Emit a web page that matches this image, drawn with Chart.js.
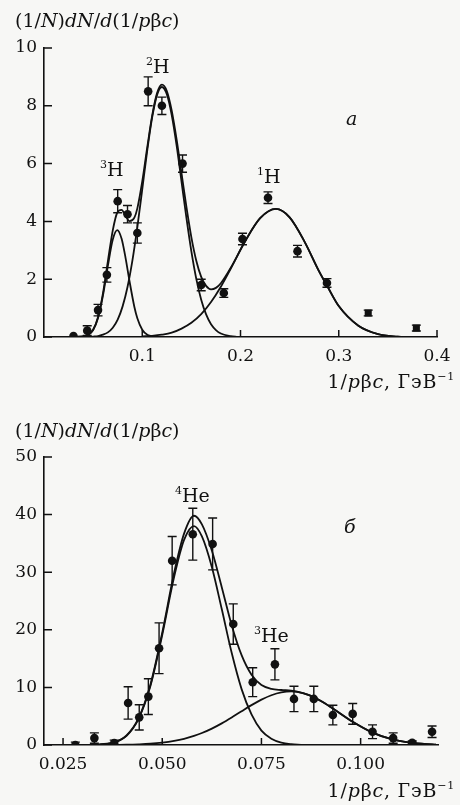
<!DOCTYPE html>
<html>
<head>
<meta charset="utf-8">
<script src="https://cdn.jsdelivr.net/npm/chart.js@4.4.1/dist/chart.umd.min.js"></script>
<style>
  html, body { margin: 0; padding: 0; background: #f7f7f5; }
  #wrap { position: relative; width: 460px; height: 805px; overflow: hidden;
          font-family: "DejaVu Serif", serif; color: #111; }
  canvas { position: absolute; left: 0; }
  #c1 { top: 0; }
  #c2 { top: 400px; }
  .t { position: absolute; white-space: nowrap; font-size: 19px; line-height: 1; z-index: 2; }
  .t .s { font-size: 11px; position: relative; top: -8px; }
  .r { text-align: right; }
  .ax { font-size: 19px; letter-spacing: 0.8px; }
</style>
</head>
<body>
<div id="wrap">
  <canvas id="c1" width="460" height="400"></canvas>
  <canvas id="c2" width="460" height="405"></canvas>

  <!-- panel a -->
  <div class="t" style="left:15px; top:11px;">(1/<i>N</i>)<i>dN</i>/<i>d</i>(1/<i>p</i>β<i>c</i>)</div>
  <div class="t" style="left:100px; top:160px;"><span class="s">3</span>H</div>
  <div class="t" style="left:146px; top:57px;"><span class="s">2</span>H</div>
  <div class="t" style="left:257px; top:167px;"><span class="s">1</span>H</div>
  <div class="t" style="left:346px; top:109px;"><i>a</i></div>
  <div class="t r ax" style="right:5px; top:372px;">1/<i>p</i>β<i>c</i>, ГэВ<span class="s">−1</span></div>

  <!-- panel б -->
  <div class="t" style="left:15px; top:421px;">(1/<i>N</i>)<i>dN</i>/<i>d</i>(1/<i>p</i>β<i>c</i>)</div>
  <div class="t" style="left:175px; top:486px;"><span class="s">4</span>He</div>
  <div class="t" style="left:344px; top:517px;"><i>б</i></div>
  <div class="t" style="left:254px; top:626px;"><span class="s">3</span>He</div>
  <div class="t r ax" style="right:5px; top:781px;">1/<i>p</i>β<i>c</i>, ГэВ<span class="s">−1</span></div>
</div>

<script>
// ---------- панель a: изотопы водорода ----------
const topXTicks  = [0.1, 0.2, 0.3, 0.4];
const topXLabels = ['0.1', '0.2', '0.3', '0.4'];
const topYTicks  = [0, 2, 4, 6, 8, 10];

// экспериментальные точки
const hX   = [0.030, 0.044, 0.055, 0.064, 0.075, 0.085, 0.095, 0.106, 0.120, 0.141, 0.160, 0.183, 0.202, 0.228, 0.258, 0.288, 0.330, 0.379];
const hY   = [0.03, 0.22, 0.93, 2.15, 4.7, 4.25, 3.6, 8.5, 8.0, 6.0, 1.8, 1.52, 3.39, 4.82, 2.97, 1.87, 0.83, 0.31];
const hErr = [0, 0.17, 0.2, 0.25, 0.4, 0.3, 0.35, 0.5, 0.3, 0.3, 0.2, 0.15, 0.2, 0.2, 0.2, 0.15, 0.1, 0.1];

// кривые: 3H, 2H, 1H и сумма
const h3X = [0.040, 0.045, 0.050, 0.055, 0.060, 0.065, 0.070, 0.0745, 0.079, 0.083, 0.087, 0.092, 0.095, 0.100, 0.105, 0.110];
const h3Y = [0.02, 0.07, 0.24, 0.66, 1.43, 2.46, 3.37, 3.70, 3.40, 2.74, 1.94, 1.04, 0.65, 0.25, 0.08, 0.02];

const h2X = [0.045, 0.050, 0.055, 0.060, 0.065, 0.070, 0.075, 0.080, 0.085, 0.090, 0.095, 0.100, 0.105, 0.110, 0.115, 0.120, 0.125, 0.130, 0.135, 0.140, 0.145, 0.150, 0.155, 0.160, 0.165, 0.170, 0.175, 0.180, 0.190, 0.197];
const h2Y = [0.005, 0.014, 0.03, 0.08, 0.16, 0.32, 0.60, 1.06, 1.73, 2.65, 3.80, 5.11, 6.43, 7.58, 8.37, 8.65, 8.40, 7.68, 6.62, 5.37, 4.11, 2.96, 2.01, 1.29, 0.78, 0.44, 0.24, 0.12, 0.03, 0];

const h1X = [0.100, 0.110, 0.120, 0.130, 0.140, 0.150, 0.160, 0.170, 0.180, 0.190, 0.205, 0.220, 0.236, 0.250, 0.265, 0.280, 0.288, 0.300, 0.320, 0.340, 0.360, 0.365];
const h1Y = [0.02, 0.04, 0.08, 0.15, 0.29, 0.49, 0.79, 1.21, 1.74, 2.36, 3.33, 4.11, 4.43, 4.14, 3.31, 2.27, 1.78, 1.07, 0.39, 0.1, 0.01, 0];

const hSumX = [0.030, 0.040, 0.045, 0.050, 0.055, 0.060, 0.065, 0.070, 0.0745, 0.079, 0.083, 0.087, 0.092, 0.095, 0.100, 0.105, 0.110, 0.115, 0.120, 0.125, 0.130, 0.135, 0.140, 0.145, 0.150, 0.155, 0.160, 0.165, 0.170, 0.175, 0.180, 0.190, 0.205, 0.220, 0.236, 0.250, 0.265, 0.280, 0.288, 0.300, 0.320, 0.340, 0.360, 0.365];
const hSumY = [0.01, 0.03, 0.08, 0.25, 0.69, 1.51, 2.62, 3.69, 4.30, 4.40, 4.19, 4.01, 4.13, 4.45, 5.38, 6.54, 7.64, 8.43, 8.73, 8.51, 7.83, 6.83, 5.66, 4.49, 3.45, 2.64, 2.08, 1.77, 1.65, 1.70, 1.86, 2.39, 3.33, 4.11, 4.43, 4.14, 3.31, 2.27, 1.78, 1.07, 0.39, 0.1, 0.01, 0];

// ---------- панель б: изотопы гелия ----------
const botXTicks  = [0.025, 0.050, 0.075, 0.100];
const botXLabels = ['0.025', '0.050', '0.075', '0.100'];
const botYTicks  = [0, 10, 20, 30, 40, 50];

const heX   = [0.0281, 0.0329, 0.0379, 0.0414, 0.0442, 0.0465, 0.0492, 0.0525, 0.0577, 0.0627, 0.0679, 0.0728, 0.0784, 0.0832, 0.0882, 0.0930, 0.0980, 0.1030, 0.1082, 0.1130, 0.1180];
const heY   = [0.0, 1.2, 0.35, 7.3, 4.8, 8.4, 16.8, 32.0, 36.6, 34.9, 21.0, 10.9, 14.0, 8.0, 8.0, 5.2, 5.4, 2.3, 1.2, 0.4, 2.3];
const heErr = [0.5, 0.9, 0.5, 2.8, 2.2, 3.1, 4.4, 4.2, 4.5, 4.5, 3.5, 2.5, 2.7, 2.2, 2.2, 1.7, 1.8, 1.2, 0.9, 0.3, 1.0];

const he4X = [0.034, 0.038, 0.041, 0.044, 0.047, 0.050, 0.053, 0.0555, 0.058, 0.060, 0.0625, 0.065, 0.0675, 0.070, 0.0725, 0.075, 0.0775, 0.080, 0.0825, 0.085];
const he4Y = [0.07, 0.47, 1.6, 4.5, 10.2, 19.1, 29.2, 35.6, 38.0, 36.2, 30.9, 23.6, 16.0, 9.7, 5.3, 2.5, 1.1, 0.42, 0.14, 0.03];

const he3X = [0.038, 0.041, 0.044, 0.047, 0.050, 0.053, 0.0555, 0.058, 0.060, 0.0625, 0.065, 0.0675, 0.070, 0.0725, 0.075, 0.0775, 0.080, 0.0825, 0.084, 0.087, 0.090, 0.093, 0.098, 0.103, 0.108, 0.112, 0.116, 0.119];
const he3Y = [0.03, 0.06, 0.12, 0.22, 0.41, 0.71, 1.07, 1.57, 2.08, 2.85, 3.76, 4.78, 5.86, 6.92, 7.88, 8.64, 9.13, 9.3, 9.23, 8.67, 7.65, 6.34, 4.04, 2.16, 0.97, 0.45, 0.2, 0.08];

const heSumX = [0.034, 0.038, 0.041, 0.044, 0.047, 0.050, 0.053, 0.0555, 0.058, 0.060, 0.0625, 0.065, 0.0675, 0.070, 0.0725, 0.075, 0.0775, 0.080, 0.0825, 0.084, 0.087, 0.090, 0.093, 0.098, 0.103, 0.108, 0.112, 0.116, 0.119];
const heSumY = [0.08, 0.5, 1.66, 4.62, 10.42, 19.5, 29.9, 36.7, 39.8, 38.3, 33.75, 27.4, 20.8, 15.6, 12.2, 10.4, 9.74, 9.55, 9.44, 9.28, 8.67, 7.65, 6.34, 4.04, 2.16, 0.97, 0.45, 0.2, 0.08];

// ---------- вспомогательное ----------
const INK = '#111';
const FONT = 'DejaVu Serif';

function pts(xs, ys) {
  return xs.map((x, i) => ({ x: x, y: ys[i] }));
}

function curve(xs, ys) {
  return {
    type: 'line',
    data: pts(xs, ys),
    borderColor: INK,
    borderWidth: 1.8,
    pointRadius: 0,
    fill: false,
    cubicInterpolationMode: 'monotone'
  };
}

// усы погрешностей + внутренние штрихи осей
const extras = {
  id: 'extras',
  afterDatasetsDraw(chart) {
    const { ctx } = chart;
    const xs = chart.scales.x, ys = chart.scales.y;
    ctx.save();
    ctx.strokeStyle = INK;
    ctx.lineWidth = 1.4;
    ctx.beginPath();
    chart.data.datasets.forEach(ds => {
      if (!ds.errors) return;
      ds.data.forEach((p, i) => {
        const e = ds.errors[i];
        if (!e) return;
        const px = xs.getPixelForValue(p.x);
        const y1 = ys.getPixelForValue(Math.max(p.y - e, 0));
        const y2 = ys.getPixelForValue(p.y + e);
        ctx.moveTo(px, y1); ctx.lineTo(px, y2);
        ctx.moveTo(px - 4.5, y2); ctx.lineTo(px + 4.5, y2);
        if (p.y - e > 0) { ctx.moveTo(px - 4.5, y1); ctx.lineTo(px + 4.5, y1); }
      });
    });
    ctx.stroke();

    ctx.lineWidth = 1.5;
    ctx.beginPath();
    xs.ticks.forEach(t => {
      const px = xs.getPixelForValue(t.value);
      ctx.moveTo(px, ys.bottom); ctx.lineTo(px, ys.bottom - 7);
    });
    ys.ticks.forEach(t => {
      const py = ys.getPixelForValue(t.value);
      ctx.moveTo(xs.left, py); ctx.lineTo(xs.left + 8, py);
    });
    ctx.stroke();
    ctx.restore();
  }
};

function makePanel(id, cfg) {
  const tickFont = { family: FONT, size: 17 };
  return new Chart(document.getElementById(id), {
    type: 'scatter',
    data: {
      datasets: [
        {
          type: 'scatter',
          data: pts(cfg.px, cfg.py),
          errors: cfg.err,
          backgroundColor: INK,
          borderColor: INK,
          pointStyle: cfg.styles,
          pointRadius: cfg.radii,
          borderWidth: 0
        },
        ...cfg.curves
      ]
    },
    options: {
      responsive: false,
      animation: false,
      events: [],
      layout: { padding: cfg.pad },
      plugins: { legend: { display: false }, tooltip: { enabled: false } },
      scales: {
        x: {
          type: 'linear',
          min: cfg.xMin, max: cfg.xMax,
          grid: { display: false, drawTicks: false },
          border: { display: true, color: INK, width: 1.6 },
          ticks: {
            color: INK, font: tickFont, padding: 9, maxRotation: 0, autoSkip: false,
            callback: (v, i) => cfg.xLabels[i]
          },
          afterBuildTicks: s => { s.ticks = cfg.xTicks.map(v => ({ value: v })); },
          afterFit: s => { s.height = cfg.xAxisH; }
        },
        y: {
          min: cfg.yTicks[0], max: cfg.yTicks[cfg.yTicks.length - 1],
          grid: { display: false, drawTicks: false },
          border: { display: true, color: INK, width: 1.6 },
          ticks: { color: INK, font: tickFont, padding: 7 },
          afterBuildTicks: s => { s.ticks = cfg.yTicks.map(v => ({ value: v })); },
          afterFit: s => { s.width = 44; }
        }
      }
    },
    plugins: [extras]
  });
}

makePanel('c1', {
  px: hX, py: hY, err: hErr,
  styles: hX.map((v, i) => i >= hX.length - 2 ? 'rect' : 'circle'),
  radii: hX.map((v, i) => i >= hX.length - 2 ? 5 : 4.3),
  curves: [curve(h3X, h3Y), curve(h2X, h2Y), curve(h1X, h1Y), curve(hSumX, hSumY)],
  xMin: 0, xMax: 0.4, xTicks: topXTicks, xLabels: topXLabels,
  yTicks: topYTicks,
  pad: { left: 0, right: 23, top: 48, bottom: 0 },
  xAxisH: 63
});

makePanel('c2', {
  px: heX, py: heY, err: heErr,
  styles: 'circle',
  radii: 4.3,
  curves: [curve(he4X, he4Y), curve(he3X, he3Y), curve(heSumX, heSumY)],
  xMin: 0.0202, xMax: 0.1195, xTicks: botXTicks, xLabels: botXLabels,
  yTicks: botYTicks,
  pad: { left: 0, right: 22, top: 57, bottom: 0 },
  xAxisH: 60
});
</script>
</body>
</html>
